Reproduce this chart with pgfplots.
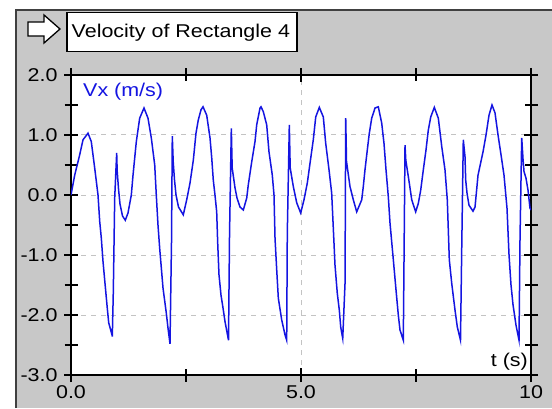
\documentclass[border=0pt]{standalone}
\usepackage{pgfplots}
\pgfplotsset{compat=1.18}
\usepackage{fontspec}
\newfontfamily\ms[FakeStretch=1.16]{Liberation Sans}
\newcommand\msf{\fontsize{18.5bp}{20bp}\selectfont\ms}
\definecolor{bggray}{RGB}{200,200,200}
\definecolor{gridgray}{RGB}{195,195,195}
\definecolor{vblue}{RGB}{20,20,225}

\begin{document}
\begin{tikzpicture}[x=1bp,y=1bp]
\useasboundingbox (0,0) rectangle (552,408);
\fill[white] (0,0) rectangle (552,408);
\fill[bggray] (16,0) rectangle (552,398);
\draw[black!75, line width=2bp] (16,0) -- (16,398) -- (552,398);

% title box and arrow icon
\draw[fill=white, line width=1.2bp] (67,356.5) rectangle (297,395.5);
\node[anchor=base west, inner sep=0pt, font=\msf] at (71.5,370.5) {Velocity of Rectangle 4};
\draw[fill=white, line width=1.3bp, line join=miter]
  (28,372) -- (44,372) -- (44,365) -- (60,379) -- (44,393) -- (44,386) -- (28,386) -- cycle;

\begin{axis}[
    at={(71bp,33bp)}, anchor=south west,
    scale only axis, width=460bp, height=300bp,
    xmin=0, xmax=10, ymin=-3, ymax=2,
    xtick={0,5,10}, xticklabels={0.0,5.0,10},
    minor xtick={2.5,7.5},
    ytick={-3,-2,-1,0,1,2}, yticklabels={-3.0,-2.0,-1.0,0.0,1.0,2.0},
    minor ytick={-2.5,-1.5,-0.5,0.5,1.5},
    tick align=center, major tick length=14bp, minor tick length=13bp,
    tick style={black, line width=1.2bp},
    ticklabel style={font=\msf},
    yticklabel style={xshift=-3bp},
    grid=major,
    major grid style={gridgray, line width=1bp, dash pattern=on 5bp off 5bp},
    axis line style={black, line width=1.5bp},
    axis background/.style={fill=white},
  ]
  \addplot[vblue, line width=1.5bp] coordinates {
    (0.000,0.00) (0.080,0.33) (0.189,0.67) (0.261,0.92) (0.370,1.03) (0.441,0.89)
    (0.515,0.45) (0.587,0.00) (0.624,-0.44) (0.659,-0.72) (0.696,-1.11) (0.746,-1.53)
    (0.789,-1.89) (0.820,-2.13) (0.891,-2.33) (0.898,-2.36)
    (0.920,-1.60) (0.950,-0.05) (0.993,0.70) (1.004,0.40) (1.033,0.10) (1.065,-0.15)
    (1.120,-0.35) (1.180,-0.42) (1.239,-0.30) (1.311,0.00) (1.348,0.33) (1.420,0.89)
    (1.493,1.28) (1.587,1.45) (1.674,1.28) (1.746,0.95) (1.820,0.50) (1.854,0.00)
    (1.891,-0.50) (1.928,-0.89) (2.000,-1.55) (2.072,-1.97) (2.109,-2.22) (2.152,-2.48)
    (2.185,-0.78) (2.202,0.98) (2.222,0.55) (2.250,0.25) (2.283,0.00) (2.337,-0.20)
    (2.441,-0.33) (2.515,-0.08) (2.587,0.20) (2.659,0.58) (2.717,1.03) (2.767,1.25)
    (2.826,1.42) (2.870,1.47) (2.950,1.33) (3.022,0.95) (3.059,0.62) (3.093,0.25)
    (3.130,0.00) (3.167,-0.28) (3.189,-0.80) (3.217,-1.33) (3.261,-1.67) (3.304,-1.88)
    (3.348,-2.11) (3.424,-2.42)
    (3.446,-0.67) (3.485,1.11) (3.504,0.45) (3.565,0.12) (3.609,-0.05) (3.674,-0.20)
    (3.746,-0.25) (3.820,-0.05) (3.854,0.17) (3.928,0.55) (4.000,0.89) (4.037,1.17)
    (4.109,1.45) (4.130,1.47) (4.180,1.39) (4.254,1.17) (4.304,0.72) (4.376,0.33)
    (4.413,0.00) (4.435,-0.72) (4.472,-1.25) (4.507,-1.72) (4.580,-2.08) (4.652,-2.33)
    (4.689,-2.42)
    (4.702,-0.64) (4.746,1.17) (4.765,0.45) (4.833,0.14) (4.907,-0.13) (4.993,-0.30)
    (5.065,-0.08) (5.137,0.20) (5.196,0.53) (5.267,0.92) (5.320,1.30) (5.398,1.46)
    (5.485,1.30) (5.537,0.86) (5.609,0.42) (5.667,0.03) (5.717,-0.80) (5.739,-1.17)
    (5.789,-1.64) (5.833,-1.92) (5.863,-2.20) (5.907,-2.39)
    (5.957,-1.47) (5.972,1.28) (5.989,0.56) (6.065,0.14) (6.137,-0.08) (6.211,-0.28)
    (6.320,-0.08) (6.354,0.14) (6.391,0.42) (6.441,0.75) (6.485,1.03) (6.537,1.28)
    (6.609,1.45) (6.680,1.47) (6.754,1.20) (6.804,0.86) (6.848,0.42) (6.898,-0.03)
    (6.935,-0.47) (7.007,-1.08) (7.065,-1.58) (7.115,-2.00) (7.152,-2.25) (7.224,-2.42)
    (7.261,0.83) (7.278,0.58) (7.354,0.20) (7.407,-0.08) (7.493,-0.28) (7.550,-0.14)
    (7.602,0.08) (7.659,0.42) (7.717,0.75) (7.767,1.08) (7.820,1.30) (7.898,1.46)
    (7.985,1.28) (8.059,0.81) (8.130,0.42) (8.180,-0.08) (8.224,-1.08) (8.276,-1.47)
    (8.348,-1.92) (8.398,-2.20) (8.467,-2.42)
    (8.496,-0.78) (8.528,0.92) (8.565,0.64) (8.580,0.25) (8.609,0.03) (8.652,-0.17)
    (8.739,-0.27) (8.783,-0.20) (8.848,0.33) (8.957,0.72) (9.022,1.00) (9.087,1.33)
    (9.152,1.50) (9.217,1.37) (9.283,1.00) (9.348,0.67) (9.413,0.33) (9.478,-0.22)
    (9.522,-1.00) (9.565,-1.50) (9.609,-1.83) (9.674,-2.17) (9.739,-2.42)
    (9.761,-0.72) (9.798,0.95) (9.826,0.60) (9.848,0.39) (9.891,0.28) (9.935,0.08)
    (9.978,-0.22) (10.000,-0.25)
  };
  \node[anchor=north west, inner sep=0pt, font=\msf, text=vblue]
    at (rel axis cs:0,1) [xshift=12bp, yshift=-8bp] {Vx (m/s)};
  \node[anchor=south east, inner sep=0pt, font=\msf]
    at (rel axis cs:1,0) [xshift=-3bp, yshift=4bp] {t (s)};
\end{axis}
\end{tikzpicture}
\end{document}
